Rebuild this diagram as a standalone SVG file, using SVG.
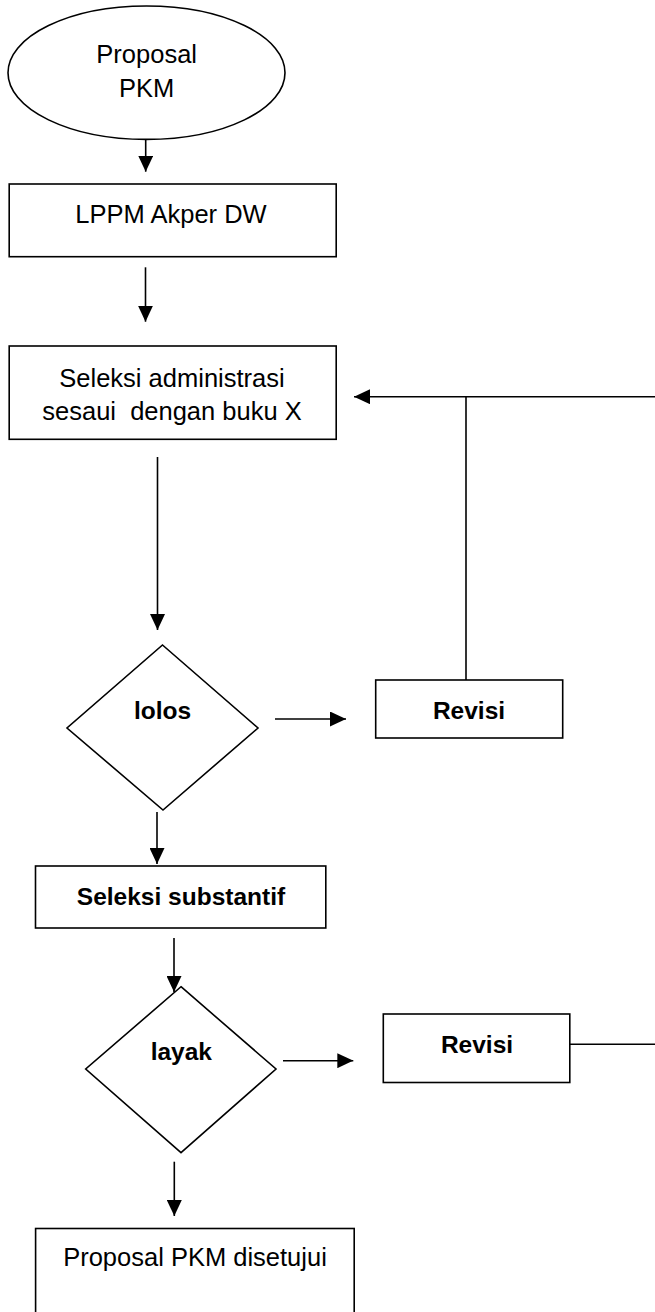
<svg xmlns="http://www.w3.org/2000/svg" width="655" height="1312" viewBox="0 0 655 1312">
<style>
.shape{fill:#fff;stroke:#000;stroke-width:1.6}
.t{font-family:"Liberation Sans",Arial,sans-serif;font-size:25.5px;fill:#000;text-anchor:middle}
.b{font-weight:bold;font-size:24.5px}
.c{fill:none;stroke:#000;stroke-width:1.6}
</style>
<defs>
<marker id="ah" markerUnits="userSpaceOnUse" markerWidth="16" markerHeight="15" refX="16" refY="7.5" orient="auto">
<path d="M0,0 L16,7.5 L0,15 z" fill="#000"/>
</marker>
</defs>
<rect width="655" height="1312" fill="#fff"/>
<g id="connectors">
<line class="c" x1="145.7" y1="116.7" x2="145.7" y2="171.7" marker-end="url(#ah)"/>
<line class="c" x1="145.5" y1="267.3" x2="145.5" y2="321.7" marker-end="url(#ah)"/>
<line class="c" x1="157.5" y1="457" x2="157.5" y2="630" marker-end="url(#ah)"/>
<line class="c" x1="275" y1="719" x2="346" y2="719" marker-end="url(#ah)"/>
<line class="c" x1="466" y1="680" x2="466" y2="396.7"/>
<line class="c" x1="656" y1="396.7" x2="354" y2="396.7" marker-end="url(#ah)"/>
<line class="c" x1="157" y1="812" x2="157" y2="864" marker-end="url(#ah)"/>
<line class="c" x1="174" y1="938" x2="174" y2="992" marker-end="url(#ah)"/>
<line class="c" x1="283" y1="1060.7" x2="353.3" y2="1060.7" marker-end="url(#ah)"/>
<line class="c" x1="570" y1="1044.3" x2="656" y2="1044.3"/>
<line class="c" x1="174.3" y1="1161.7" x2="174.3" y2="1216" marker-end="url(#ah)"/>
</g>
<g id="start">
<ellipse class="shape" cx="146.5" cy="72.7" rx="138.5" ry="66.7"/>
<text class="t" x="146.7" y="62.7">Proposal</text>
<text class="t" x="146.7" y="97.3">PKM</text>
</g>
<g id="lppm">
<rect class="shape" x="9.2" y="184" width="327" height="72.7"/>
<text class="t" x="171" y="223.3">LPPM Akper DW</text>
</g>
<g id="seleksi-admin">
<rect class="shape" x="9.2" y="346" width="327" height="93.3"/>
<text class="t" x="172" y="386.7">Seleksi administrasi</text>
<text class="t" x="172" y="420" xml:space="preserve">sesaui  dengan buku X</text>
</g>
<g id="lolos">
<polygon class="shape" points="162.5,645 258,728 163,810 67,728"/>
<text class="t b" x="162.5" y="719">lolos</text>
</g>
<g id="revisi1">
<rect class="shape" x="375.7" y="680" width="187" height="58"/>
<text class="t b" x="469" y="719">Revisi</text>
</g>
<g id="seleksi-substantif">
<rect class="shape" x="35.5" y="866" width="290.3" height="62"/>
<text class="t b" x="181" y="905">Seleksi substantif</text>
</g>
<g id="layak">
<polygon class="shape" points="181,986.7 276,1069 181,1152.7 85.7,1069"/>
<text class="t b" x="181.3" y="1060">layak</text>
</g>
<g id="revisi2">
<rect class="shape" x="383.3" y="1014" width="186.5" height="68.5"/>
<text class="t b" x="477" y="1053">Revisi</text>
</g>
<g id="disetujui">
<rect class="shape" x="35.6" y="1228.5" width="318.6" height="110"/>
<text class="t" x="195" y="1266">Proposal PKM disetujui</text>
</g>
</svg>
